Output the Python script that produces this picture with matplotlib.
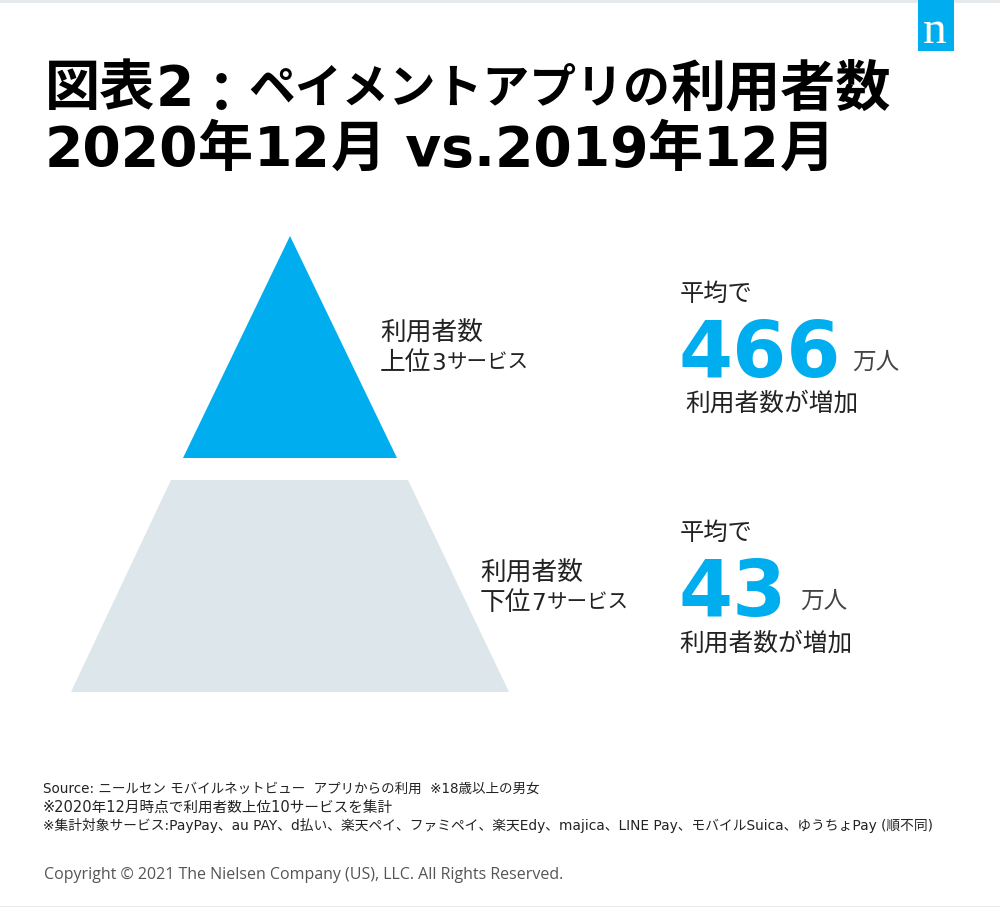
import re
import matplotlib
matplotlib.use("Agg")
import matplotlib.pyplot as plt
from matplotlib.patches import Polygon, Rectangle

plt.rcParams['font.family'] = ['DejaVu Sans', 'Noto Sans CJK JP']

title_lines = ["図表2：ペイメントアプリの利用者数", "2020年12月 vs.2019年12月"]
tier_labels = [["利用者数", "上位3サービス"], ["利用者数", "下位7サービス"]]
tier_values = [466, 43]
tier_colors = ["#00aeef", "#dde6ea"]
notes = ["Source: ニールセン モバイルネットビュー  アプリからの利用  ※18歳以上の男女",
         "※2020年12月時点で利用者数上位10サービスを集計",
         "※集計対象サービス:PayPay、au PAY、d払い、楽天ペイ、ファミペイ、楽天Edy、majica、LINE Pay、モバイルSuica、ゆうちょPay (順不同)"]
note_sizes = [9.75, 10.5, 9.9]
copyright_text = "Copyright © 2021 The Nielsen Company (US), LLC. All Rights Reserved."

blue = "#00aeef"
dark = "#222222"

fig = plt.figure(figsize=(10, 9.07), dpi=100)
ax = fig.add_axes([0, 0, 1, 1])
ax.set_xlim(0, 1000)
ax.set_ylim(907, 0)
ax.axis("off")
renderer = fig.canvas.get_renderer()


# the original font has narrow kana, so big text gets written in runs
def mixed_text(x, y, s, size, kana=0.8, latin=0.9, **kw):
    for run in re.findall(r"：|[\u3041-\u30ff]+|[\x20-\x7e]+|[^\u3041-\u30ff\x20-\x7e：]+", s):
        fs = size
        lift = 0
        if run == "：":
            lift = -7  # colon sits lower in the original
        elif re.match(r"[\u3041-\u30ff]", run):
            fs = size * kana
            lift = (size - fs) * 0.38 * 100 / 72  # keep the kana centred on the line
        elif run[0] < "\x7f":
            fs = size * latin
        t = ax.text(x, y - lift, run, fontsize=fs, va="baseline", **kw)
        x += t.get_window_extent(renderer).width
    return x


# frame lines and logo
ax.add_patch(Rectangle((0, 0), 1000, 3, color="#e6eaec", lw=0))
ax.add_patch(Rectangle((0, 906), 1000, 1, color="#e6eaec", lw=0))
ax.add_patch(Rectangle((918, 0), 36, 51, color=blue, lw=0))
ax.text(935, 43, "n", color="white", fontsize=34, family="Liberation Serif", ha="center", va="baseline")

for i, line in enumerate(title_lines):
    mixed_text(45, 105 + i * 61, line, 39.7, kana=0.85, latin=1.0, fontweight="bold", color="black")

# pyramid tiers
ax.add_patch(Polygon([(290, 236), (397, 458), (183, 458)], color=tier_colors[0], lw=0))
ax.add_patch(Polygon([(171, 480), (408, 480), (509, 692), (71, 692)], color=tier_colors[1], lw=0))

label_x = [380, 480]
label_y = [341, 581]
for lines, x, y in zip(tier_labels, label_x, label_y):
    ax.text(x, y, lines[0], fontsize=18.5, color=dark, va="baseline")
    mixed_text(x, y + 29, lines[1], 18.5, color=dark)

# values on the right
head_y = [301, 540]
value_y = [377, 616]
unit_x = [852, 800]
foot_x = [685, 679]
foot_y = [411, 651]
for val, hy, vy, ux, fx, fy in zip(tier_values, head_y, value_y, unit_x, foot_x, foot_y):
    ax.text(680, hy, "平均で", fontsize=17.5, color=dark, va="baseline")
    ax.text(679, vy, str(val), fontsize=56, fontweight="bold", color=blue, va="baseline")
    ax.text(ux, vy - 8, "万人", fontsize=17, color="#444444", va="baseline")
    ax.text(fx, fy, "利用者数が増加", fontsize=17.8, color=dark, va="baseline")

for i, line in enumerate(notes):
    ax.text(43, 793 + i * 18.5, line, fontsize=note_sizes[i], color=dark, va="baseline")
ax.text(44, 879, copyright_text, fontsize=11.55, family="Open Sans", color="#555555", va="baseline")

fig.savefig("out.png", dpi=100)
